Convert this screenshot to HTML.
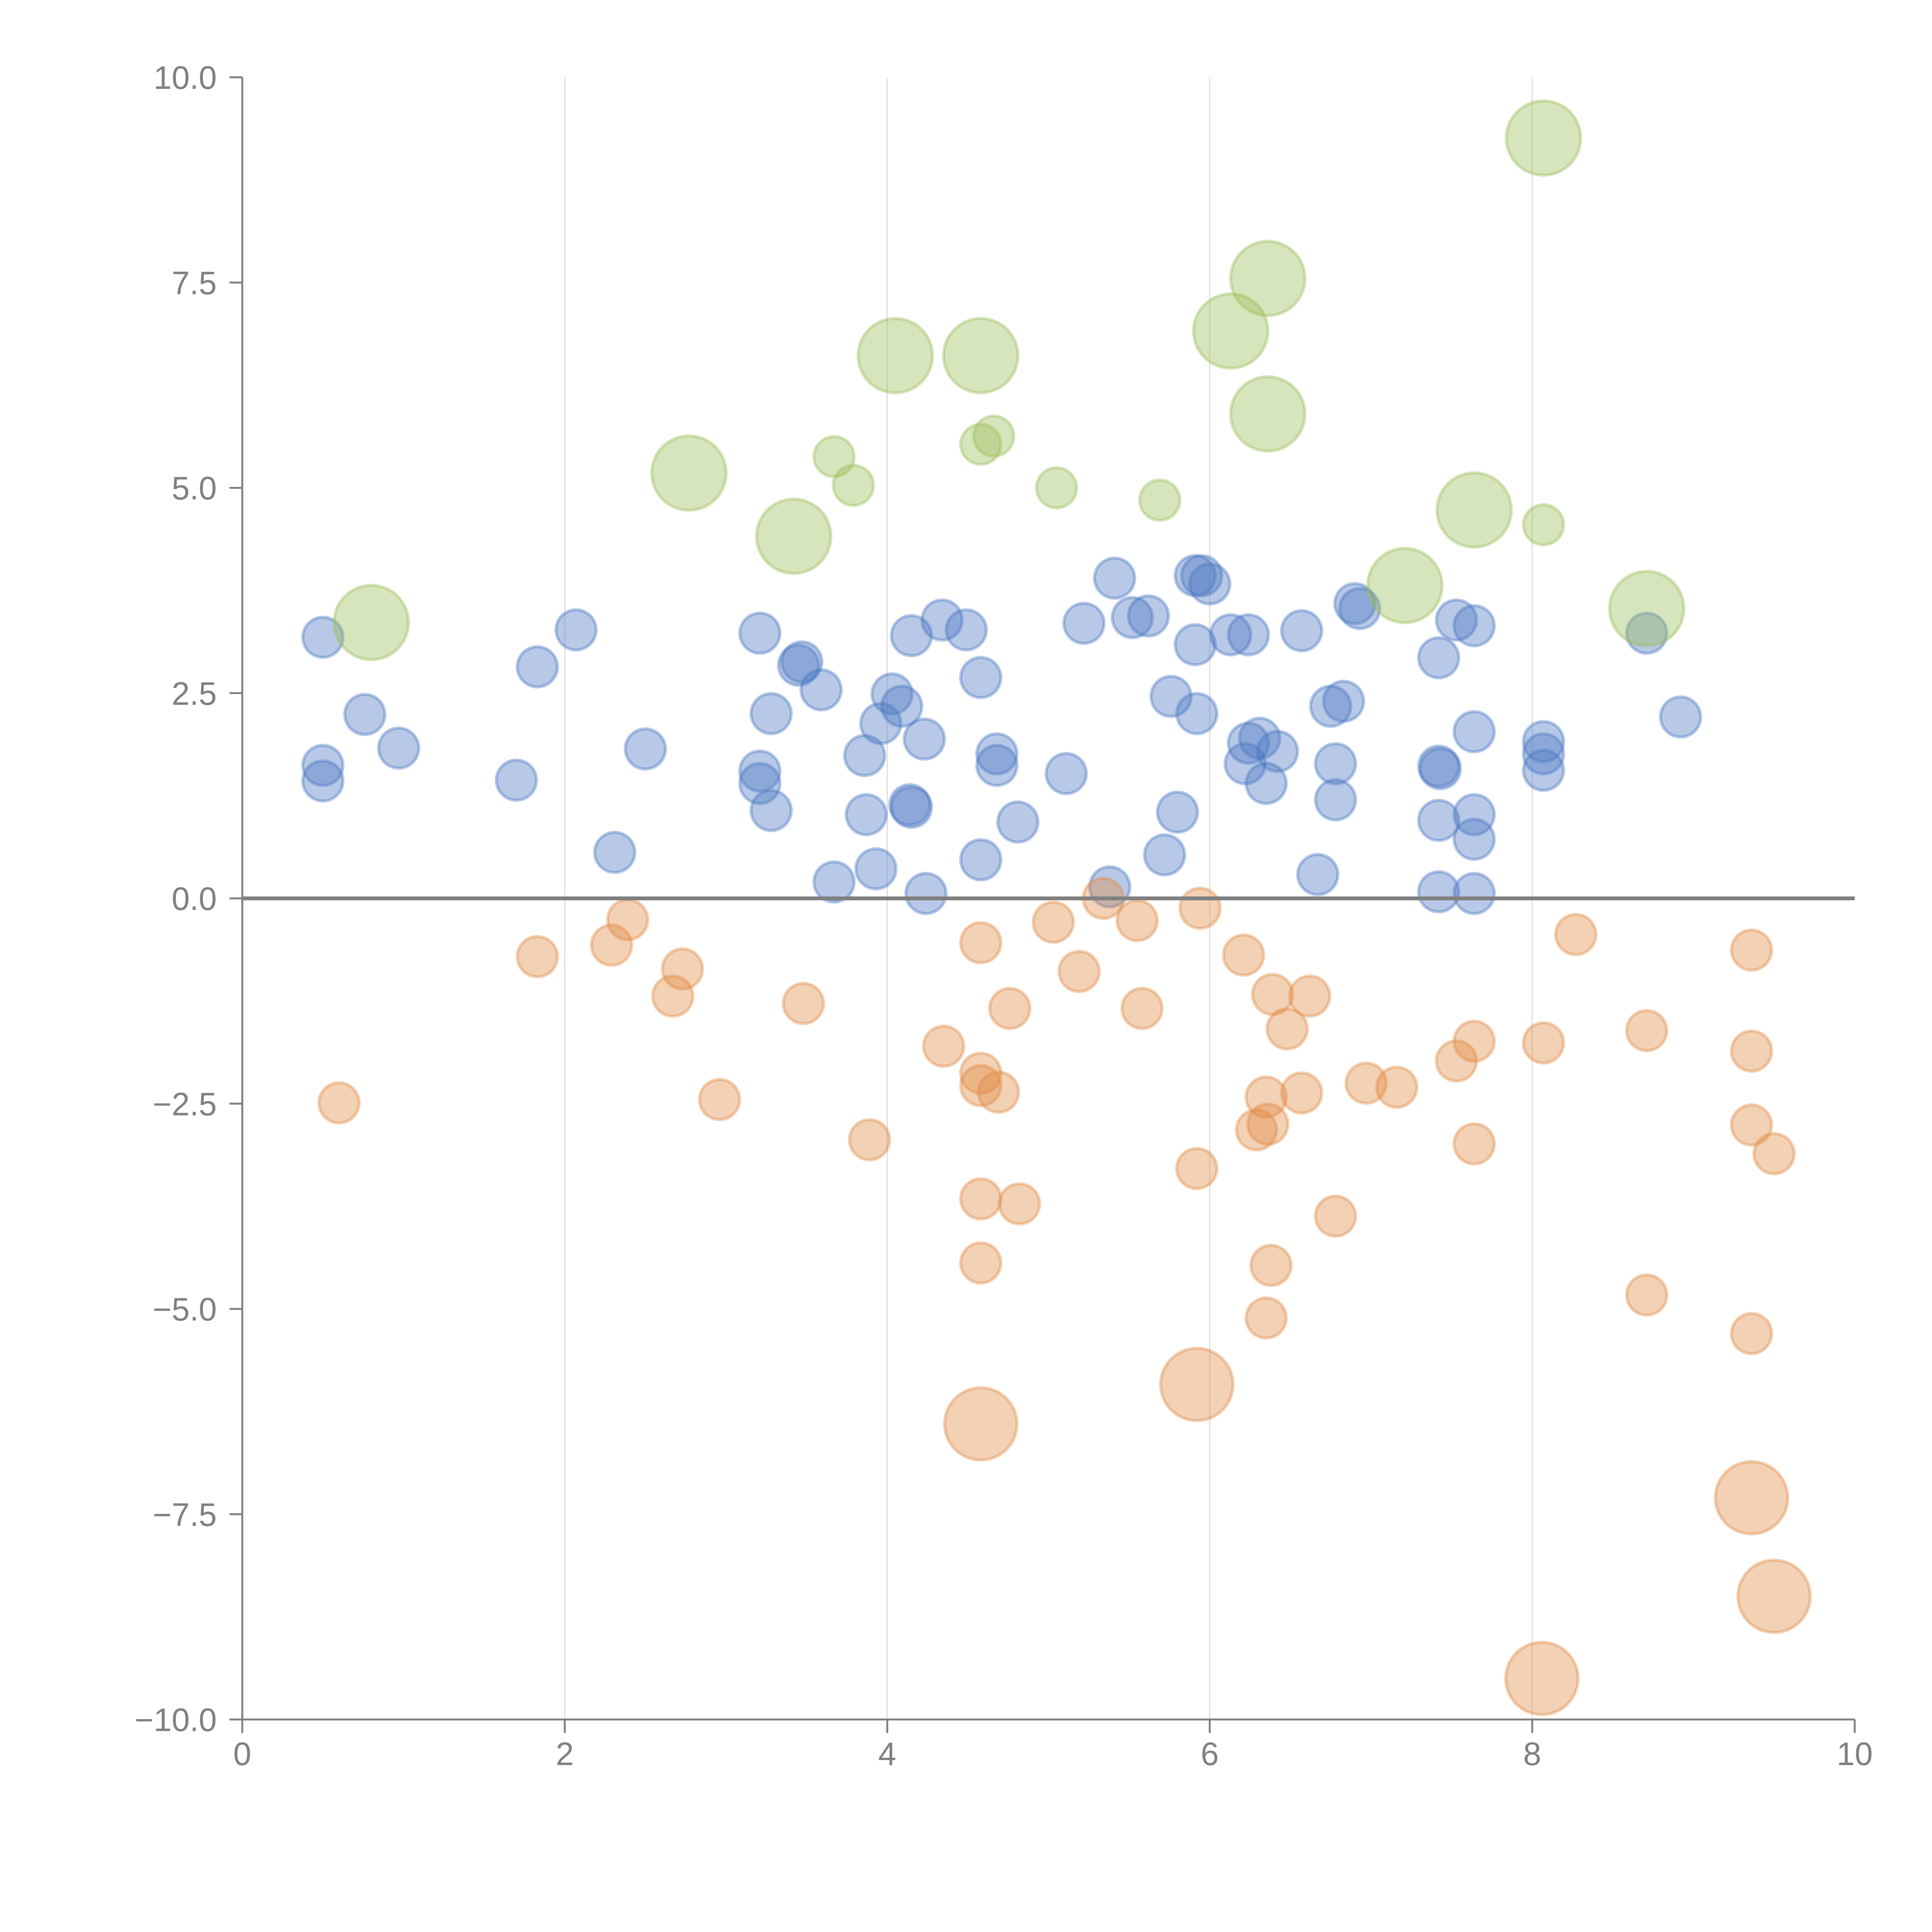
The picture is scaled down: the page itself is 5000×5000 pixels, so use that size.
<!DOCTYPE html>
<html><head><meta charset="utf-8"><style>
html,body{margin:0;padding:0;background:#fff;width:5000px;height:5000px;overflow:hidden}
svg{display:block}
text{font-family:"Liberation Sans",sans-serif;fill:#808080;font-size:84px}
</style></head><body>
<svg id="chart" width="5000" height="5000" viewBox="0 0 5000 5000" xmlns="http://www.w3.org/2000/svg">
<g id="grid"></g>
<g id="points"></g>
<g id="axes"></g>
</svg>
<script>
const xTicks=[0,2,4,6,8,10];
const xTickLabels=["0","2","4","6","8","10"];
const yTicks=[10,7.5,5,2.5,0,-2.5,-5,-7.5,-10];
const yTickLabels=["10.0","7.5","5.0","2.5","0.0","\u22122.5","\u22125.0","\u22127.5","\u221210.0"];
// [x, y, size]
const bluePoints=[[0.50,3.18,1],[0.50,1.62,1],[0.50,1.43,1],[0.76,2.24,1],[0.97,1.83,1],[1.70,1.44,1],[1.83,2.82,1],[2.07,3.27,1],[2.31,0.56,1],[2.50,1.82,1],[3.21,3.23,1],[3.21,1.55,1],[3.21,1.40,1],[3.28,2.25,1],[3.28,1.07,1],[3.45,2.84,1],[3.47,2.88,1],[3.59,2.54,1],[3.67,0.20,1],[3.86,1.74,1],[3.87,1.02,1],[3.93,0.36,1],[3.96,2.13,1],[4.03,2.49,1],[4.09,2.34,1],[4.14,1.14,1],[4.15,1.11,1],[4.15,3.20,1],[4.23,1.94,1],[4.24,0.06,1],[4.34,3.39,1],[4.49,3.27,1],[4.58,2.69,1],[4.58,0.47,1],[4.68,1.76,1],[4.68,1.62,1],[4.81,0.93,1],[5.11,1.52,1],[5.22,3.35,1],[5.38,0.14,1],[5.41,3.90,1],[5.52,3.42,1],[5.62,3.44,1],[5.72,0.53,1],[5.76,2.46,1],[5.80,1.05,1],[5.91,3.09,1],[5.92,2.25,1],[5.91,3.93,1],[5.95,3.93,1],[6.00,3.83,1],[6.13,3.21,1],[6.24,3.21,1],[6.22,1.64,1],[6.24,1.89,1],[6.31,1.95,1],[6.35,1.40,1],[6.42,1.79,1],[6.57,3.26,1],[6.67,0.29,1],[6.75,2.34,1],[6.78,1.20,1],[6.78,1.64,1],[6.83,2.40,1],[6.90,3.59,1],[6.93,3.53,1],[7.42,2.93,1],[7.42,1.61,1],[7.43,1.58,1],[7.42,0.95,1],[7.42,0.08,1],[7.53,3.39,1],[7.64,3.32,1],[7.64,2.03,1],[7.64,1.02,1],[7.64,0.72,1],[7.64,0.06,1],[8.07,1.91,1],[8.07,1.76,1],[8.07,1.56,1],[8.71,3.23,1],[8.92,2.21,1]];
const greenPoints=[[0.80,3.36,1.85],[2.77,5.18,1.85],[3.42,4.41,1.85],[3.67,5.38,1],[3.79,5.03,1],[4.05,6.61,1.85],[4.58,6.61,1.85],[4.58,5.53,1],[4.66,5.63,1],[5.05,5.00,1],[5.69,4.85,1],[6.13,6.91,1.85],[6.36,7.55,1.85],[6.36,5.90,1.85],[7.21,3.81,1.85],[7.64,4.73,1.85],[8.07,4.55,1],[8.07,9.26,1.85],[8.71,3.53,1.85]];
const orangePoints=[[0.60,-2.49,1],[1.83,-0.71,1],[2.29,-0.57,1],[2.39,-0.26,1],[2.73,-0.86,1],[2.67,-1.19,1],[2.96,-2.45,1],[3.48,-1.28,1],[3.89,-2.94,1],[4.35,-1.80,1],[4.58,-0.54,1],[4.58,-2.13,1],[4.58,-2.28,1],[4.69,-2.36,1],[4.76,-1.34,1],[4.58,-3.66,1],[4.82,-3.72,1],[4.58,-4.44,1],[4.58,-6.40,1.8],[5.03,-0.29,1],[5.19,-0.89,1],[5.34,0.0,1],[5.55,-0.27,1],[5.58,-1.34,1],[5.94,-0.12,1],[5.92,-3.29,1],[5.92,-5.92,1.8],[6.21,-0.69,1],[6.39,-1.17,1],[6.62,-1.19,1],[6.48,-1.59,1],[6.35,-2.42,1],[6.57,-2.37,1],[6.29,-2.82,1],[6.36,-2.75,1],[6.38,-4.47,1],[6.35,-5.11,1],[6.78,-3.87,1],[6.97,-2.25,1],[7.16,-2.30,1],[7.53,-1.98,1],[7.64,-1.74,1],[7.64,-2.99,1],[8.07,-1.76,1],[8.27,-0.44,1],[8.71,-1.61,1],[8.71,-4.83,1],[9.36,-0.63,1],[9.36,-1.86,1],[9.36,-2.76,1],[9.50,-3.11,1],[9.36,-5.30,1],[9.36,-7.30,1.8],[9.50,-8.50,1.8],[8.06,-9.50,1.8]];

const NS="http://www.w3.org/2000/svg";
const X0=627,XU=417.3,Y0=2325,YU=212.5;
function sx(v){return X0+XU*v;}
function sy(v){return Y0-YU*v;}
function sr(s){return 52*s;}
function mk(tag,attrs,parent){const e=document.createElementNS(NS,tag);for(const k in attrs)e.setAttribute(k,attrs[k]);parent.appendChild(e);return e;}
const grid=document.getElementById('grid'),pts=document.getElementById('points'),axes=document.getElementById('axes');
xTicks.forEach(function(t){
  if(t===0||t===10)return;
  const l=mk('line',{x1:sx(t),x2:sx(t),y1:sy(10),y2:sy(-10),stroke:'#dddddd','stroke-width':3},grid);
  
  
});
function series(data,col,name){
  const g=mk('g',{},pts);
  
  
  data.forEach(function(p){
    const c=mk('circle',{cx:sx(p[0]),cy:sy(p[1]),r:sr(p[2]),fill:col,'fill-opacity':0.4,stroke:col,'stroke-opacity':0.4,'stroke-width':8},g);
    
    
  });
}
series(bluePoints,'rgb(75,120,195)','blue');
series(orangePoints,'rgb(226,140,70)','orange');
series(greenPoints,'rgb(155,190,90)','green');
const z=mk('line',{x1:sx(0),x2:sx(10),y1:sy(0),y2:sy(0),stroke:'#808080','stroke-width':10},axes);


const ya=mk('line',{x1:sx(0),x2:sx(0),y1:sy(10),y2:sy(-10),stroke:'#808080','stroke-width':5},axes);


const xa=mk('line',{x1:sx(0),x2:sx(10),y1:sy(-10),y2:sy(-10),stroke:'#808080','stroke-width':5},axes);


yTicks.forEach(function(t,i){
  const tk=mk('line',{x1:sx(0)-33,x2:sx(0),y1:sy(t),y2:sy(t),stroke:'#808080','stroke-width':5},axes);
  
  
  const tx=mk('text',{x:561,y:sy(t)+30,'text-anchor':'end'},axes);
  tx.textContent=yTickLabels[i];
  
  
});
xTicks.forEach(function(t,i){
  const tk=mk('line',{x1:sx(t),x2:sx(t),y1:sy(-10),y2:sy(-10)+35,stroke:'#808080','stroke-width':5},axes);
  
  
  const tx=mk('text',{x:sx(t),y:4568,'text-anchor':'middle'},axes);
  tx.textContent=xTickLabels[i];
  
  
});
</script>
</body></html>
